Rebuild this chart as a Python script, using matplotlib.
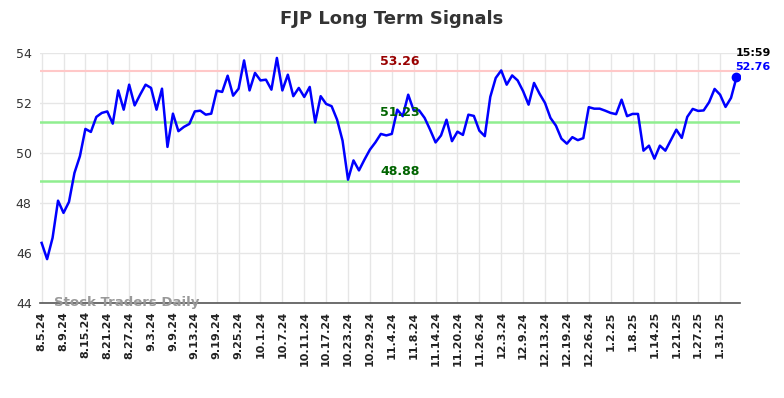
import matplotlib.pyplot as plt

# tick labels, one every 4 trading days
tick_labels = ["8.5.24", "8.9.24", "8.15.24", "8.21.24", "8.27.24", "9.3.24", "9.9.24",
               "9.13.24", "9.19.24", "9.25.24", "10.1.24", "10.7.24", "10.11.24", "10.17.24",
               "10.23.24", "10.29.24", "11.4.24", "11.8.24", "11.14.24", "11.20.24",
               "11.26.24", "12.3.24", "12.9.24", "12.13.24", "12.19.24", "12.26.24",
               "1.2.25", "1.8.25", "1.14.25", "1.21.25", "1.27.25", "1.31.25"]

# daily closes
prices = [46.4, 45.75, 46.6, 48.09, 47.6, 48.04, 49.2, 49.87, 50.96, 50.84,
          51.44, 51.6, 51.66, 51.17, 52.5, 51.73, 52.73, 51.9, 52.33, 52.73,
          52.6, 51.73, 52.57, 50.24, 51.57, 50.87, 51.04, 51.16, 51.66, 51.69,
          51.53, 51.57, 52.49, 52.44, 53.09, 52.29, 52.57, 53.7, 52.5, 53.2,
          52.9, 52.93, 52.53, 53.8, 52.5, 53.13, 52.27, 52.6, 52.24, 52.64,
          51.22, 52.27, 51.96, 51.87, 51.33, 50.49, 48.93, 49.7, 49.3, 49.73,
          50.13, 50.42, 50.76, 50.7, 50.76, 51.73, 51.47, 52.33, 51.7, 51.7,
          51.4, 50.93, 50.42, 50.7, 51.33, 50.47, 50.85, 50.72, 51.53, 51.48,
          50.89, 50.67, 52.24, 53.0, 53.3, 52.73, 53.1, 52.9, 52.47, 51.93,
          52.8, 52.37, 52.0, 51.4, 51.09, 50.57, 50.37, 50.63, 50.51, 50.59,
          51.83, 51.77, 51.77, 51.69, 51.6, 51.55, 52.13, 51.47, 51.56, 51.56,
          50.09, 50.29, 49.77, 50.29, 50.09, 50.51, 50.93, 50.6, 51.44, 51.76,
          51.68, 51.7, 52.03, 52.56, 52.33, 51.84, 52.2, 53.02]

resistance = 53.26
mid_level = 51.23
support = 48.88
last_time = "15:59"
last_label = "52.76"

x = list(range(len(prices)))

fig = plt.figure(figsize=(7.84, 3.98), dpi=100)
ax = fig.add_axes([0.051, 0.239, 0.893, 0.628])

ax.plot(x, prices, color='#0000ff', lw=1.8, zorder=3)
ax.plot(x[-1], prices[-1], 'o', color='#0000ff', ms=6, zorder=4)

ax.axhline(resistance, color='#ffc8c8', lw=1.5, zorder=2)
ax.axhline(mid_level, color='#90ee90', lw=1.8, zorder=2)
ax.axhline(support, color='#90ee90', lw=1.8, zorder=2)

lab_x = 65.5
ax.text(lab_x, resistance + 0.12, f"{resistance:.2f}", color='#990000', fontsize=9,
        fontweight='bold', ha='center', va='bottom')
ax.text(lab_x, mid_level + 0.12, f"{mid_level:.2f}", color='#006400', fontsize=9,
        fontweight='bold', ha='center', va='bottom')
ax.text(lab_x, support + 0.12, f"{support:.2f}", color='#006400', fontsize=9,
        fontweight='bold', ha='center', va='bottom')

ax.text(x[-1] + 3, 54.0, last_time, color='black', fontsize=8, fontweight='bold',
        ha='center', va='center', clip_on=False)
ax.text(x[-1] + 3, 53.45, last_label, color='#0000ff', fontsize=8,
        fontweight='bold', ha='center', va='center', clip_on=False)

ax.text(0.02, 0.0, "Stock Traders Daily", transform=ax.transAxes, color='#999999',
        fontsize=9.5, fontweight='bold', ha='left', va='center')

ax.set_xlim(-0.3, 127.66)
ax.set_ylim(44, 54)
ax.set_xticks(x[::4][:len(tick_labels)])
ax.set_xticklabels(tick_labels, rotation=90, fontsize=8, fontweight='bold', color='#222222')
ax.set_yticks([44, 46, 48, 50, 52, 54])
ax.tick_params(axis='y', labelsize=9, colors='#333333', length=0, pad=6)
ax.tick_params(axis='x', length=0, pad=6)
ax.grid(True, color='#e6e6e6', lw=1)
ax.set_axisbelow(True)
for s in ['top', 'right', 'left']:
    ax.spines[s].set_visible(False)
ax.spines['bottom'].set_color('#555555')
ax.spines['bottom'].set_linewidth(1.2)

fig.suptitle("FJP Long Term Signals", fontsize=13, fontweight='bold', color='#333333',
             y=0.975)

fig.savefig("out.png", dpi=100)
